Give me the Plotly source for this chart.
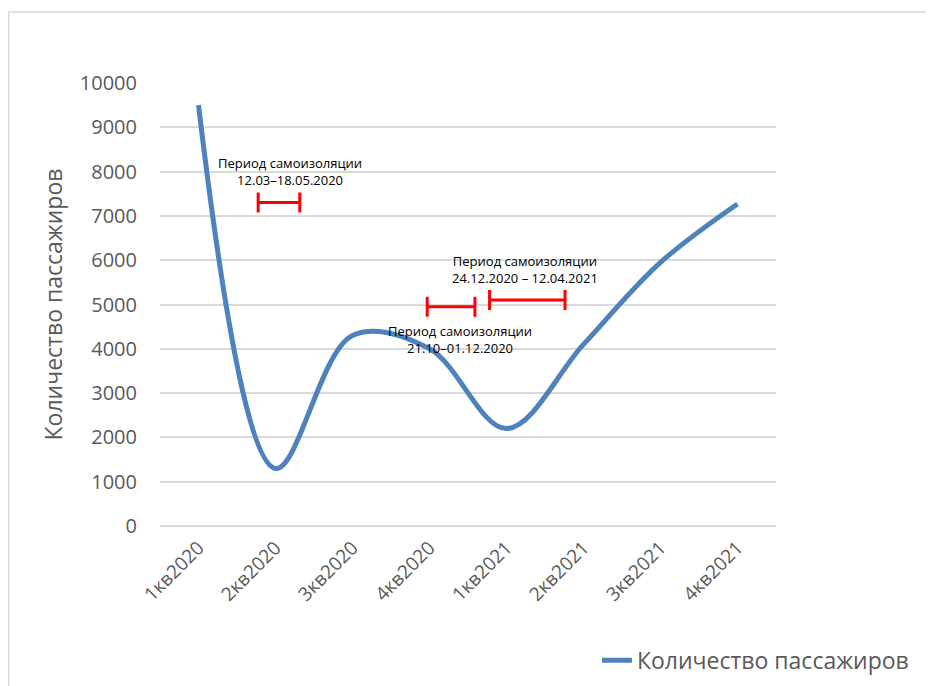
import plotly.graph_objects as go

quarters = ["1кв2020", "2кв2020", "3кв2020", "4кв2020",
            "1кв2021", "2кв2021", "3кв2021", "4кв2021"]
passengers = [9500, 1300, 4300, 4000, 2200, 4100, 5950, 7270]

# isolation periods: centre (in quarter units), half-width, level
period_labels = [
    "Период самоизоляции<br>12.03–18.05.2020",
    "Период самоизоляции<br>21.10–01.12.2020",
    "Период самоизоляции<br>24.12.2020 – 12.04.2021",
]
period_center = [1.045, 3.28, 4.27]
period_half = [0.27, 0.31, 0.49]
period_level = [7300, 4950, 5100]
label_x = [1.19, 3.40, 4.24]
label_y = [8000, 4220, 5790]

FONT = "Open Sans, Noto Sans, sans-serif"
GRID = "#d9d9d9"
TICK = "#595959"
BLUE = "#4f81bd"

x_idx = list(range(len(quarters)))

fig = go.Figure()
fig.add_trace(
    go.Scatter(
        x=x_idx,
        y=passengers,
        mode="lines",
        name="Количество пассажиров",
        line=dict(color=BLUE, width=5, shape="spline", smoothing=1.0),
    )
)

fig.add_trace(
    go.Scatter(
        x=period_center,
        y=period_level,
        mode="markers",
        marker=dict(size=1, color="red", opacity=0),
        error_x=dict(type="data", array=period_half, color="red", thickness=3, width=10),
        showlegend=False,
        hoverinfo="skip",
    )
)

for txt, ax, ay in zip(period_labels, label_x, label_y):
    fig.add_annotation(
        x=ax, y=ay, text=txt, showarrow=False,
        font=dict(family=FONT, size=13, color="#000000"),
        align="center",
    )

# outer chart frame
fig.add_shape(
    type="rect", xref="paper", yref="paper",
    x0=-0.2455, x1=1.27, y0=-0.40, y1=1.1603,
    line=dict(color=GRID, width=1.5), layer="below",
)

# the page body keeps its default 8px margin, so the figure is sized to fit
fig.update_layout(
    width=926,
    height=678,
    margin=dict(l=152, r=158, t=75, b=160),
    paper_bgcolor="white",
    plot_bgcolor="white",
    font=dict(family=FONT, color=TICK),
    showlegend=True,
    legend=dict(
        orientation="h",
        xref="container", yref="container",
        x=0.636, xanchor="left",
        y=0.038, yanchor="middle",
        font=dict(size=23, color=TICK),
        bgcolor="rgba(0,0,0,0)",
    ),
)
fig.update_xaxes(
    range=[-0.5, 7.5],
    tickvals=x_idx,
    ticktext=quarters,
    tickangle=-45,
    tickfont=dict(size=19, color=TICK),
    showgrid=False,
    zeroline=False,
    showline=False,
    ticks="",
    ticklabelstandoff=6,
    automargin=False,
)
fig.update_yaxes(
    range=[0, 10000],
    dtick=1000,
    tickformat="d",
    tickfont=dict(size=20, color=TICK),
    showgrid=True,
    gridcolor=GRID,
    gridwidth=1.5,
    zeroline=True,
    zerolinecolor=GRID,
    zerolinewidth=1.5,
    showline=False,
    ticks="",
    ticklabelstandoff=22,
    automargin=False,
    title=dict(text="Количество пассажиров", font=dict(size=23, color=TICK), standoff=10),
)

fig.write_html("out.html")
